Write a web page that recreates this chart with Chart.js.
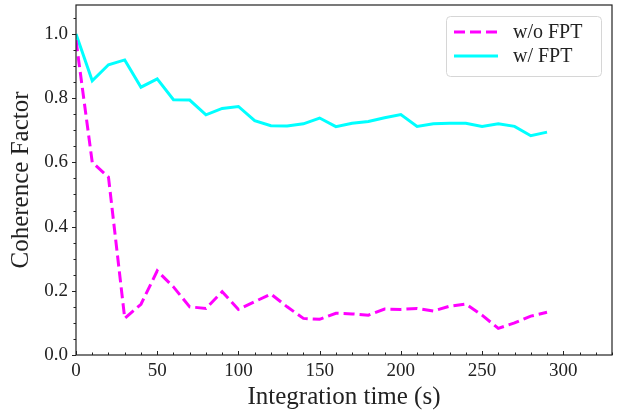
<!DOCTYPE html>
<html>
<head>
<meta charset="utf-8">
<script src="https://cdn.jsdelivr.net/npm/chart.js@4/dist/chart.umd.min.js"></script>
<style>
    html, body { margin: 0; padding: 0; background: #ffffff; }
    #wrap { width: 621px; height: 416px; }
</style>
</head>
<body>
<div id="wrap"><canvas id="cfChart" width="621" height="416"></canvas></div>
<script>
// Données
const times = [0, 10, 20, 30, 40, 50, 60, 70, 80, 90, 100, 110, 120, 130, 140,
               150, 160, 170, 180, 190, 200, 210, 220, 230, 240, 250, 260, 270, 280, 290];
const withoutFpt = [0.98, 0.60, 0.554, 0.114, 0.158, 0.262, 0.212, 0.150, 0.145, 0.197,
                    0.142, 0.166, 0.190, 0.150, 0.114, 0.111, 0.130, 0.128, 0.124, 0.143,
                    0.142, 0.145, 0.137, 0.152, 0.159, 0.124, 0.083, 0.100, 0.121, 0.133];
const withFpt = [1.0, 0.854, 0.904, 0.919, 0.834, 0.860, 0.795, 0.794, 0.748, 0.768,
                 0.774, 0.730, 0.714, 0.713, 0.720, 0.738, 0.711, 0.722, 0.727, 0.739,
                 0.749, 0.712, 0.720, 0.722, 0.722, 0.712, 0.720, 0.712, 0.683, 0.694];
const seriesLabels = ['w/o FPT', 'w/ FPT'];
const xTicks = [0, 50, 100, 150, 200, 250, 300];
const yTicks = [0.0, 0.2, 0.4, 0.6, 0.8, 1.0];
const xMinorStep = 10;
const yMinorStep = 0.05;

const FONT = '"Liberation Serif", "DejaVu Serif", serif';
const INK = '#222222';

function toPoints(values) {
    return times.map((t, i) => ({ x: t, y: values[i] }));
}

// Supprime la marge automatique des étiquettes pour caler la zone du graphique
function noLabelPadding(s) {
    s.paddingTop = 0;
    s.paddingBottom = 0;
    s.paddingLeft = 0;
    s.paddingRight = 0;
}

/**
 * Petites graduations façon matplotlib (x vers l'intérieur, y vers l'extérieur)
 */
const tickMarks = {
    id: 'tickMarks',
    afterDraw(chart) {
        const { ctx, chartArea, scales } = chart;
        const sx = scales.x, sy = scales.y;
        ctx.save();
        ctx.strokeStyle = INK;
        ctx.lineWidth = 1;
        ctx.beginPath();
        for (let v = sx.min; v <= sx.max + 1e-9; v += xMinorStep) {
            const px = Math.round(sx.getPixelForValue(v)) + 0.5;
            const len = xTicks.includes(v) ? 4 : 2.5;
            ctx.moveTo(px, chartArea.bottom);
            ctx.lineTo(px, chartArea.bottom - len);
        }
        for (let v = sy.min; v <= sy.max + 1e-9; v += yMinorStep) {
            const py = Math.round(sy.getPixelForValue(v)) + 0.5;
            const major = yTicks.some(t => Math.abs(t - v) < 1e-6);
            const len = major ? 4 : 2.5;
            ctx.moveTo(chartArea.left, py);
            ctx.lineTo(chartArea.left - len, py);
        }
        ctx.stroke();

        // cadre
        ctx.lineWidth = 1.2;
        ctx.strokeRect(chartArea.left, chartArea.top, chartArea.right - chartArea.left, chartArea.bottom - chartArea.top);
        ctx.restore();
    }
};

/**
 * Légende dessinée dans la zone du graphique, en haut à droite
 */
const boxLegend = {
    id: 'boxLegend',
    afterDraw(chart) {
        const { ctx, chartArea } = chart;
        const x0 = chartArea.right - 166, y0 = chartArea.top + 11;
        const w = 155, h = 60;
        ctx.save();
        ctx.fillStyle = 'rgba(255,255,255,0.85)';
        ctx.strokeStyle = '#d6d6d6';
        ctx.lineWidth = 1;
        ctx.beginPath();
        ctx.roundRect(x0 + 0.5, y0 + 0.5, w, h, 4);
        ctx.fill();
        ctx.stroke();

        ctx.font = '20px ' + FONT;
        ctx.textBaseline = 'middle';
        chart.data.datasets.forEach((ds, i) => {
            const cy = y0 + 16 + i * 24;
            ctx.strokeStyle = ds.borderColor;
            ctx.lineWidth = ds.borderWidth;
            ctx.setLineDash(ds.borderDash || []);
            ctx.beginPath();
            ctx.moveTo(x0 + 8, cy);
            ctx.lineTo(x0 + 52, cy);
            ctx.stroke();
            ctx.setLineDash([]);
            ctx.fillStyle = INK;
            ctx.fillText(ds.label, x0 + 67, cy + 1);
        });
        ctx.restore();
    }
};

const ctx = document.getElementById('cfChart').getContext('2d');
new Chart(ctx, {
    type: 'line',
    data: {
        datasets: [
            {
                label: seriesLabels[0],
                data: toPoints(withoutFpt),
                borderColor: '#ff00ff',
                borderWidth: 3,
                borderDash: [11, 5],
                pointRadius: 0,
                tension: 0,
                fill: false
            },
            {
                label: seriesLabels[1],
                data: toPoints(withFpt),
                borderColor: '#00ffff',
                borderWidth: 3,
                pointRadius: 0,
                tension: 0,
                fill: false
            }
        ]
    },
    options: {
        responsive: false,
        animation: false,
        layout: { padding: { top: 5, right: 9, left: 0, bottom: 0 } },
        plugins: {
            legend: { display: false },
            tooltip: { enabled: false }
        },
        scales: {
            x: {
                type: 'linear',
                min: 0,
                max: 330,
                afterBuildTicks: s => { s.ticks = xTicks.map(v => ({ value: v })); },
                afterFit: s => { s.height = 61; noLabelPadding(s); },
                grid: { display: false, drawTicks: false },
                border: { display: false },
                ticks: {
                    padding: 5,
                    color: INK,
                    font: { family: FONT, size: 19 },
                    maxRotation: 0,
                    callback: v => String(v)
                },
                title: {
                    display: true,
                    text: 'Integration time (s)',
                    color: INK,
                    font: { family: FONT, size: 25 },
                    padding: { top: 0, bottom: 4 }
                }
            },
            y: {
                type: 'linear',
                min: 0,
                max: 1.09,
                afterBuildTicks: s => { s.ticks = yTicks.map(v => ({ value: v })); },
                afterFit: s => { s.width = 76; noLabelPadding(s); },
                grid: { display: false, drawTicks: false },
                border: { display: false },
                ticks: {
                    padding: 8,
                    color: INK,
                    font: { family: FONT, size: 19 },
                    callback: v => v.toFixed(1)
                },
                title: {
                    display: true,
                    text: 'Coherence Factor',
                    color: INK,
                    font: { family: FONT, size: 25 },
                    padding: { top: 6, bottom: 0 }
                }
            }
        }
    },
    plugins: [tickMarks, boxLegend]
});
</script>
</body>
</html>
